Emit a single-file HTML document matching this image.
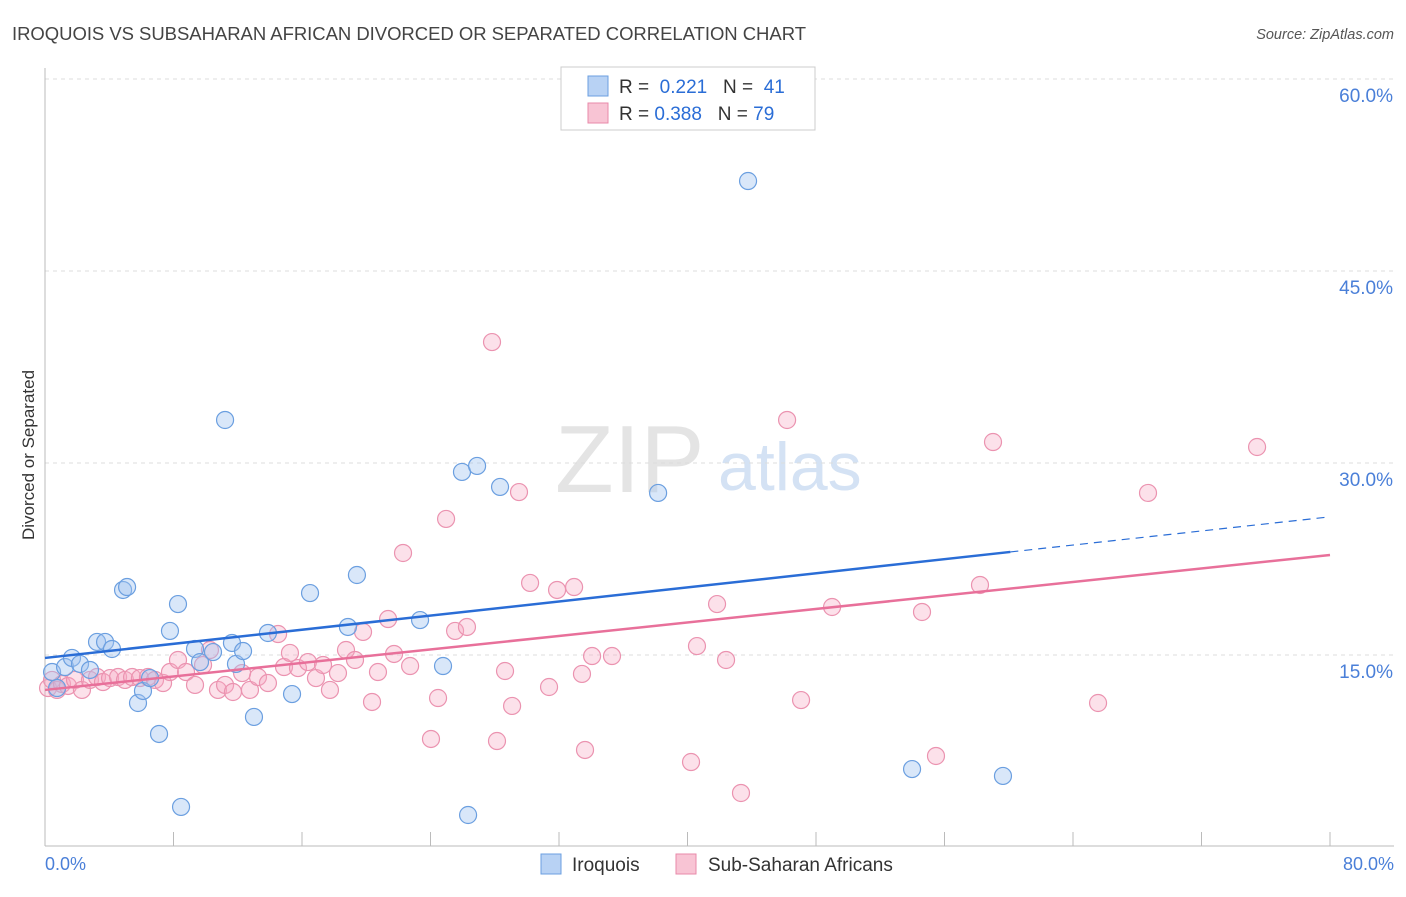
<!DOCTYPE html>
<html><head><meta charset="utf-8"><style>
body{margin:0;background:#fff;font-family:"Liberation Sans",sans-serif}
svg text{font-family:"Liberation Sans",sans-serif}
</style></head><body>
<svg id="c" width="1406" height="892" xmlns="http://www.w3.org/2000/svg">
<text x="12" y="40" font-size="18.5" fill="#444" textLength="794">IROQUOIS VS SUBSAHARAN AFRICAN DIVORCED OR SEPARATED CORRELATION CHART</text>
<text x="1394" y="39" font-size="14.5" fill="#555" font-style="italic" text-anchor="end">Source: ZipAtlas.com</text>
<text x="555" y="492" font-size="96" fill="#e4e4e4" font-family="Liberation Serif">ZIP</text>
<text x="718" y="490" font-size="68" fill="#d4e2f4">atlas</text>
<g id="grid"></g>
<line x1="45" y1="68" x2="45" y2="846" stroke="#bbb"/>
<line x1="45" y1="846" x2="1394" y2="846" stroke="#bbb"/>
<g id="xt"></g>
<g id="yl"></g>
<text x="45" y="870" font-size="18" fill="#4a7fd8">0.0%</text>
<text x="1394" y="870" font-size="18" fill="#4a7fd8" text-anchor="end">80.0%</text>
<text transform="translate(34,455) rotate(-90)" font-size="17" fill="#333" text-anchor="middle">Divorced or Separated</text>
<g id="pink"></g>
<g id="blue"></g>
<g id="lines"></g>
<g>
<rect x="561" y="67" width="254" height="63" fill="#fff" stroke="#ccc"/>
<rect x="588" y="76" width="20" height="20" fill="#b8d2f4" stroke="#6b9fe0"/>
<rect x="588" y="103" width="20" height="20" fill="#f8c4d4" stroke="#e88aaa"/>
<text x="619" y="93" font-size="19" fill="#333">R = <tspan fill="#2a6dd6">&#160;0.221</tspan>&#160;&#160;&#160;N = <tspan fill="#2a6dd6">&#160;41</tspan></text>
<text x="619" y="120" font-size="19" fill="#333">R = <tspan fill="#2a6dd6">0.388</tspan>&#160;&#160;&#160;N = <tspan fill="#2a6dd6">79</tspan></text>
</g>
<g>
<rect x="541" y="854" width="20" height="20" fill="#b8d2f4" stroke="#6b9fe0"/>
<text x="572" y="871" font-size="19" fill="#333">Iroquois</text>
<text x="708" y="871" font-size="19" fill="#333">Sub-Saharan Africans</text>
<rect x="676" y="854" width="20" height="20" fill="#f8c4d4" stroke="#e88aaa"/>
</g>
</svg>
<script>
const blueX=[0.44,0.75,1.25,1.68,2.18,2.80,3.24,3.74,4.17,4.86,5.11,5.79,6.10,6.54,7.10,7.78,8.28,8.47,9.34,9.65,10.46,11.21,11.64,11.89,12.33,13.01,13.88,15.38,16.50,18.86,19.42,23.35,24.78,25.96,26.34,26.90,28.33,38.17,43.77,53.98,59.64];
const blueY=[13.67,12.42,14.06,14.77,14.30,13.83,16.02,16.02,15.47,20.08,20.31,11.25,12.19,13.20,8.83,16.88,18.98,3.13,15.47,14.45,15.23,33.36,15.94,14.30,15.31,10.16,16.72,11.95,19.84,17.19,21.25,17.73,14.14,29.30,2.50,29.77,28.13,27.66,52.03,6.09,5.55];
const pinkX=[0.19,0.44,0.75,1.06,1.43,1.87,2.30,2.80,3.24,3.61,4.05,4.55,4.98,5.42,5.91,6.41,6.85,7.35,7.78,8.28,8.78,9.34,9.84,10.27,10.77,11.21,11.70,12.27,12.76,13.26,13.88,14.51,14.88,15.25,15.75,16.37,16.87,17.31,17.74,18.24,18.74,19.30,19.80,20.36,20.73,21.36,21.73,22.29,22.73,24.03,24.47,24.97,25.53,26.27,27.83,28.14,28.64,29.08,29.51,30.20,31.38,31.88,32.94,33.43,33.62,34.06,35.30,40.22,40.59,41.84,42.40,43.33,46.20,47.07,49.00,54.60,55.47,58.21,59.02,65.56,68.67,75.46];
const pinkY=[12.42,13.05,12.27,12.73,12.58,13.05,12.27,13.05,13.28,12.89,13.20,13.28,13.05,13.28,13.20,13.28,13.05,12.81,13.67,14.61,13.67,12.66,14.22,15.39,12.27,12.66,12.11,13.59,12.27,13.28,12.81,16.64,14.06,15.16,13.98,14.45,13.20,14.22,12.27,13.59,15.39,14.61,16.80,11.33,13.67,17.81,15.08,22.97,14.14,8.44,11.64,25.63,16.88,17.19,39.45,8.28,13.75,11.02,27.73,20.63,12.50,20.08,20.31,13.52,7.58,14.92,14.92,6.64,15.70,18.98,14.61,4.22,33.36,11.48,18.75,18.36,7.11,20.47,31.64,11.25,27.66,31.25];
const yTicks=[15,30,45,60];
const yTickLabels=["15.0%","30.0%","45.0%","60.0%"];
const xTicks=[0,8,16,24,32,40,48,56,64,72,80];
const blueTrend=[14.77,0.1378];
const pinkTrend=[12.27,0.1318];
const blueSolidEnd=60.1;
const NS="http://www.w3.org/2000/svg";
const sx=v=>45+v/80*1285, sy=v=>847-v/15*192;
function mk(tag,attrs,parent){const e=document.createElementNS(NS,tag);for(const k in attrs)e.setAttribute(k,attrs[k]);parent.appendChild(e);return e;}
const g=document.getElementById('grid'),yl=document.getElementById('yl'),xt=document.getElementById('xt');
yTicks.forEach((t,i)=>{
 const l=mk('line',{x1:45,x2:1394,y1:sy(t),y2:sy(t),stroke:'#ddd','stroke-dasharray':'4,4'},g);
 
 
 const tx=mk('text',{x:1393,y:sy(t)+23,'font-size':19,fill:'#4a7fd8','text-anchor':'end'},yl);
 tx.textContent=yTickLabels[i];
 
 
});
xTicks.forEach(t=>{
 const l=mk('line',{x1:sx(t),x2:sx(t),y1:846,y2:832,stroke:'#bbb'},xt);
 
 
});
const pg=document.getElementById('pink');
pinkX.forEach((x,i)=>{
 const c=mk('circle',{cx:sx(x),cy:sy(pinkY[i]),r:8.5,fill:'rgba(245,170,195,0.35)',stroke:'#eb93b0','stroke-width':1.2},pg);
 
 
});
const bg=document.getElementById('blue');
blueX.forEach((x,i)=>{
 const c=mk('circle',{cx:sx(x),cy:sy(blueY[i]),r:8.5,fill:'rgba(160,195,240,0.4)',stroke:'#6b9fe0','stroke-width':1.2},bg);
 
 
});
const lg=document.getElementById('lines');
const bt=x=>blueTrend[0]+blueTrend[1]*x, pt=x=>pinkTrend[0]+pinkTrend[1]*x;
let l1=mk('line',{x1:sx(0),y1:sy(pt(0)),x2:sx(80),y2:sy(pt(80)),stroke:'#e8709a','stroke-width':2.5},lg);


let l2=mk('line',{x1:sx(0),y1:sy(bt(0)),x2:sx(blueSolidEnd),y2:sy(bt(blueSolidEnd)),stroke:'#2a6dd6','stroke-width':2.5},lg);


let l3=mk('line',{x1:sx(blueSolidEnd),y1:sy(bt(blueSolidEnd)),x2:sx(80),y2:sy(bt(80)),stroke:'#2a6dd6','stroke-width':1.2,'stroke-dasharray':'8,6'},lg);


</script>
</body></html>
